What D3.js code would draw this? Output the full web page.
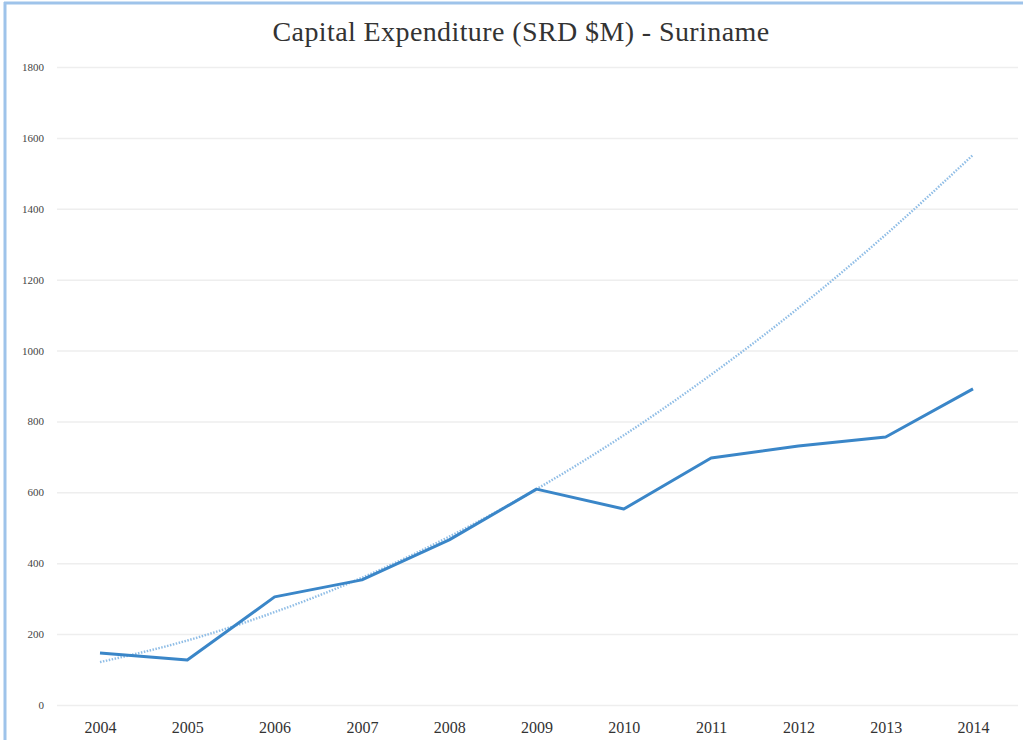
<!DOCTYPE html>
<html><head><meta charset="utf-8">
<script src="https://cdn.jsdelivr.net/npm/d3@7"></script>
<style>html,body{margin:0;padding:0;background:#fff;}svg{display:block;}</style>
</head><body>
<script>
const years = [2004,2005,2006,2007,2008,2009,2010,2011,2012,2013,2014];
const capex = [147,127,305,353,466,609,553,697,731,756,892];
const trend = [121,182,262,359,475,609,761,932,1120,1327,1552];
const yTicks = [0,200,400,600,800,1000,1200,1400,1600,1800];
const title = "Capital Expenditure (SRD $M) - Suriname";

const W = 1023, H = 740;
const svg = d3.select("body").append("svg").attr("width", W).attr("height", H);
svg.append("rect").attr("width", W).attr("height", H).attr("fill", "#fff");
// border (top & left)
svg.append("line").attr("x1",4).attr("x2",W).attr("y1",3).attr("y2",3).attr("stroke","#9ec3ea").attr("stroke-width",3);
svg.append("line").attr("x1",5).attr("x2",5).attr("y1",2).attr("y2",H).attr("stroke","#9ec3ea").attr("stroke-width",3);

const x = d3.scalePoint().domain(years).range([100, 973]);
const y = d3.scaleLinear().domain([0, 1800]).range([705, 67]);

const serif = "'Liberation Serif', 'DejaVu Serif', serif";

svg.append("text").attr("x", 521).attr("y", 41).attr("text-anchor","middle")
  .attr("font-family", serif).attr("font-size", 28).attr("letter-spacing", 0.4).attr("fill", "#333").text(title);

const yAxis = d3.axisLeft(y).tickValues(yTicks).tickFormat(d3.format("d")).tickSize(-(1018-57)).tickPadding(13);
const gy = svg.append("g").attr("transform","translate(57,0)").call(yAxis);
gy.select(".domain").remove();
gy.selectAll(".tick line").attr("stroke","#eeeeee").attr("stroke-width",1.5);
gy.selectAll(".tick text").attr("font-family", serif).attr("font-size", 11).attr("fill","#444");

const xAxis = d3.axisBottom(x).tickSize(0).tickPadding(0);
const gx = svg.append("g").attr("transform","translate(0,705)").call(xAxis);
gx.select(".domain").remove();
gx.selectAll(".tick text").attr("font-family", serif).attr("font-size", 16).attr("fill","#333").attr("dy", 28);

const trendLine = d3.line().x((d,i)=>x(years[i])).y(d=>y(d)).curve(d3.curveMonotoneX);
svg.append("path").datum(trend).attr("d", trendLine).attr("fill","none")
  .attr("stroke","#8fbde6").attr("stroke-width",2.4).attr("stroke-dasharray","1.5,1.5");

const mainLine = d3.line().x((d,i)=>x(years[i])).y(d=>y(d));
svg.append("path").datum(capex).attr("d", mainLine).attr("fill","none")
  .attr("stroke","#3a86c8").attr("stroke-width",3).attr("stroke-linejoin","round");
</script>
</body></html>
